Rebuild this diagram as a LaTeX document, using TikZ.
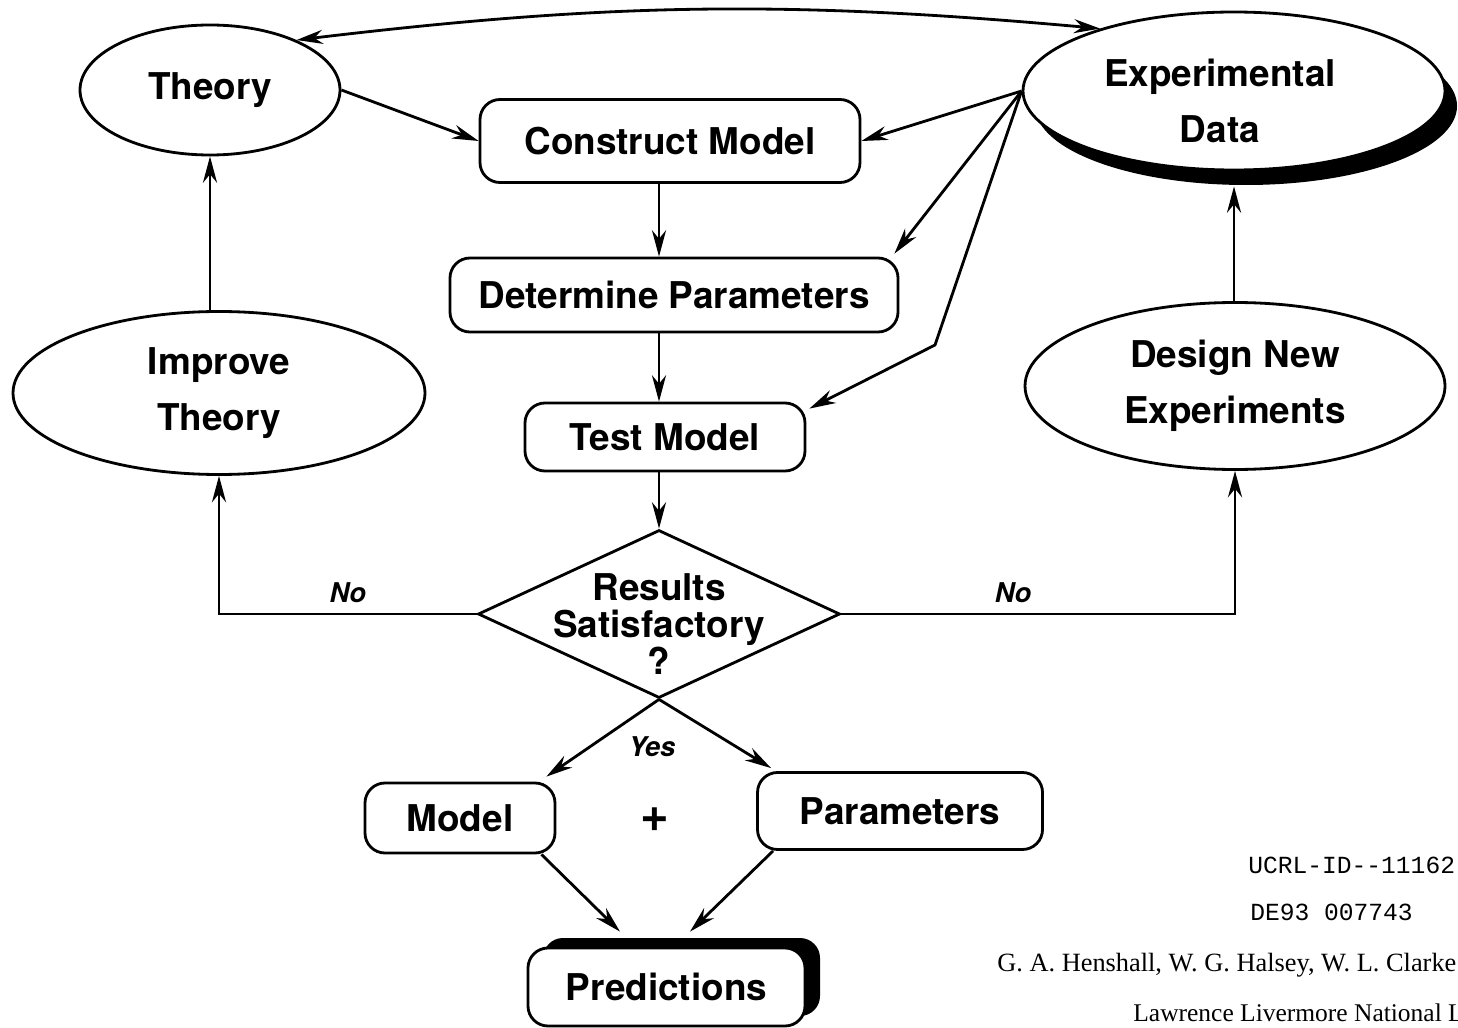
\documentclass[tikz,border=0pt]{standalone}
\usepackage{fontspec}
\setmainfont{TeX Gyre Heros}
\newfontfamily\paperserif{Liberation Serif}
\newfontfamily\papermono{Liberation Mono}
\usetikzlibrary{arrows.meta,shapes.geometric,shadows}

\begin{document}
\begin{tikzpicture}[node distance=3cm,
    every node/.style={font=\fontsize{21}{32}\selectfont\bfseries},
    oval/.style={draw,ellipse,line width=1.6pt,fill=white,inner sep=0pt,align=center},
    box/.style={draw,rectangle,rounded corners=0.4cm,line width=1.6pt,fill=white,inner sep=0pt,align=center},
    flow/.style={line width=1.6pt,->},
    answer/.style={font=\fontsize{15.5}{18}\selectfont\bfseries\itshape},
    margin/.style={anchor=west,inner sep=0pt},
    >={Stealth[length=15pt,width=8pt]}]
				\useasboundingbox (0,0) rectangle (29.16,-20.56);
				\clip (0,0) rectangle (29.16,-20.56);

				\node[box,minimum width=7.6cm,minimum height=1.66cm] (construct) at (13.4,-2.82) {Construct Model};
				\node[box,minimum width=8.96cm,minimum height=1.48cm] (determine) [below of=construct,xshift=0.08cm,yshift=-0.08cm] {Determine Parameters};
				\node[box,minimum width=5.6cm,minimum height=1.36cm] (test) [below of=determine,xshift=-0.18cm,yshift=0.16cm] {Test Model};
				\node[draw,diamond,line width=1.6pt,inner sep=0pt,minimum width=7.24cm,minimum height=3.36cm] (results) [below of=test,xshift=-0.12cm,yshift=-0.54cm] {};
				\node[align=center,font=\fontsize{21}{21}\selectfont\bfseries] (resultstext) at ([yshift=-0.2cm]results.center) {Results\\Satisfactory\\?};

				\node[oval,minimum width=5.2cm,minimum height=2.6cm] (theory) [left of=construct,xshift=-6.2cm,yshift=1.02cm] {Theory};
				\node[oval,minimum width=8.44cm,minimum height=3.16cm,drop shadow={shadow xshift=0.24cm,shadow yshift=-0.3cm,fill=black,opacity=1}] (expdata) [right of=construct,xshift=8.28cm,yshift=1.0cm] {};
				\node[align=center] (expdatatext) at ([xshift=-0.28cm,yshift=-0.2cm]expdata.center) {Experimental\\Data};
				\node[oval,minimum width=8.24cm,minimum height=3.26cm] (improve) [below of=theory,xshift=0.18cm,yshift=-3.06cm] {Improve\\Theory};
				\node[oval,minimum width=8.4cm,minimum height=3.34cm] (design) [below of=expdata,xshift=0.02cm,yshift=-2.9cm] {Design New\\Experiments};

				\node[font=\fontsize{28}{30}\selectfont\bfseries] (plus) [below of=results,xshift=-0.08cm,yshift=-1.12cm] {+};
				\node[box,minimum width=3.8cm,minimum height=1.4cm] (model) [left of=plus,xshift=-0.9cm,yshift=0.04cm] {Model};
				\node[box,minimum width=5.7cm,minimum height=1.54cm] (params) [right of=plus,xshift=1.9cm,yshift=0.18cm] {Parameters};
				\node[box,minimum width=5.54cm,minimum height=1.56cm,drop shadow={shadow xshift=0.3cm,shadow yshift=0.2cm,fill=black,opacity=1}] (predictions) [below of=plus,xshift=0.23cm,yshift=-0.34cm] {Predictions};
				\node[answer] (yes) [below of=results,xshift=-0.14cm,yshift=0.34cm] {Yes};

				\node[margin,font=\fontsize{14}{16}\selectfont\papermono] (ucrl) at (24.96,-17.3) {UCRL-ID--11162};
				\node[margin,font=\fontsize{14}{16}\selectfont\papermono] (de) at (25.0,-18.24) {DE93 007743};
				\node[margin,font=\fontsize{15}{18}\selectfont\paperserif] (authors) at (19.94,-19.3) {G. A. Henshall, W. G. Halsey, W. L. Clarke};
				\node[margin,font=\fontsize{14.5}{18}\selectfont\paperserif] (lab) at (22.66,-20.3) {Lawrence Livermore National Laboratory};

				\coordinate (kink) at (18.7,-6.9);

				\draw[flow,<->] (theory.30) to[bend left=6] (expdata.155);
				\draw[flow] (theory.east) -- (construct.west);
				\draw[flow] (expdata.west) -- (construct.east);
				\draw[flow] (expdata.west) -- ([xshift=-0.1cm,yshift=0.06cm]determine.north east);
				\draw[flow] (expdata.west) -- (kink) -- ([xshift=0.06cm,yshift=-0.14cm]test.north east);
				\draw[flow] (construct.south -| results.north) -- (determine.north -| results.north);
				\draw[flow] (determine.south -| results.north) -- (test.north -| results.north);
				\draw[flow] (test.south -| results.north) -- (results.north);
				\draw[flow] (results.west) -| node[answer,pos=0.25,above=2pt] (noleft) {No} (improve.south);
				\draw[flow] (results.east) -| node[answer,pos=0.218,above=2pt] (noright) {No} (design.south);
				\draw[flow] (improve.north -| theory.south) -- (theory.south);
				\draw[flow] (design.north -| expdata.south) -- ([yshift=-0.3cm]expdata.south);
				\draw[flow] (results.south) -- ([xshift=-0.2cm,yshift=0.1cm]model.north east);
				\draw[flow] (results.south) -- ([xshift=0.3cm,yshift=0.06cm]params.north west);
				\draw[flow] ([xshift=-0.3cm]model.south east) -- ([xshift=-0.93cm,yshift=0.3cm]predictions.north);
				\draw[flow] ([xshift=0.34cm]params.south west) -- ([xshift=0.47cm,yshift=0.3cm]predictions.north);
			\end{tikzpicture}
\end{document}
